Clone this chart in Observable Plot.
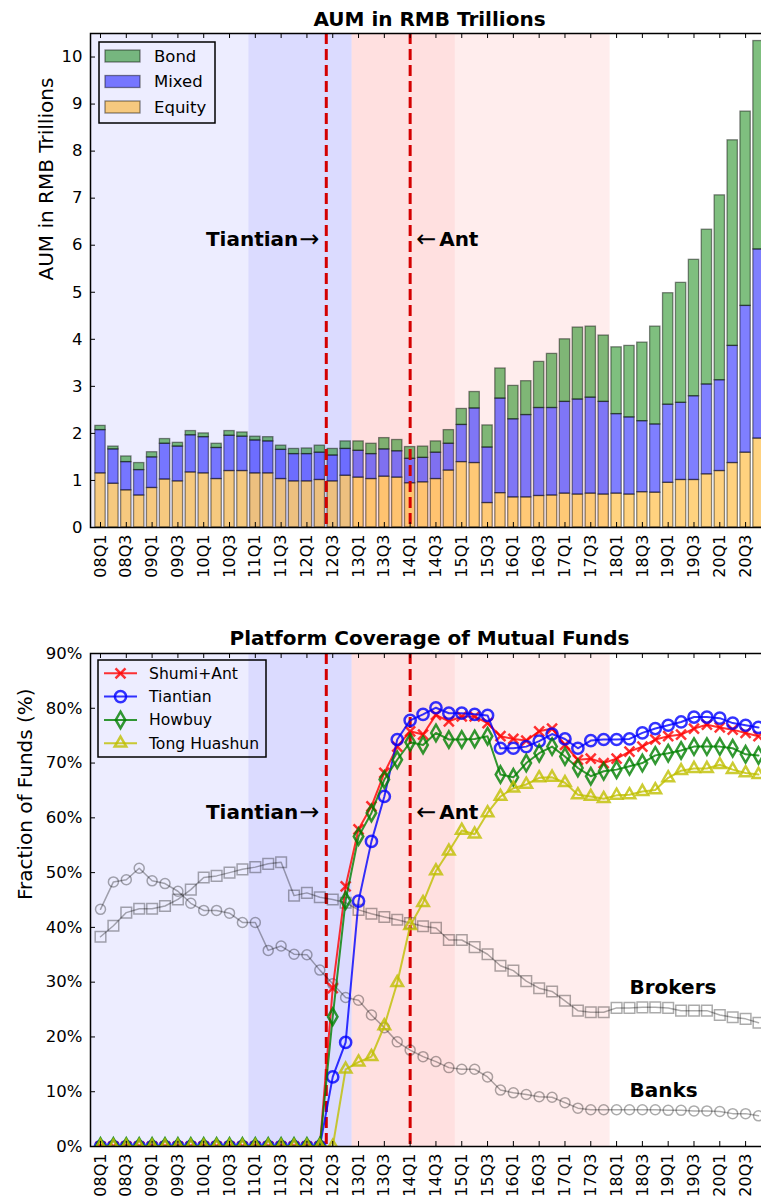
<!DOCTYPE html>
<html>
<head>
<meta charset="utf-8">
<script src="https://cdn.jsdelivr.net/npm/d3@7"></script>
<script src="https://cdn.jsdelivr.net/npm/@observablehq/plot@0.6"></script>
<style>
html, body { margin: 0; padding: 0; background: #fff; overflow: hidden; }
#wrap { position: relative; width: 761px; height: 1201px; overflow: hidden; font-family: "DejaVu Sans", sans-serif; }
#wrap > .panel { position: absolute; left: 0; }
#overlay { position: absolute; left: 0; top: 0; pointer-events: none; }
</style>
</head>
<body>
<div id="wrap"></div>
<script>
// ---------------- DATA ----------------
const quarters = [
  "08Q1","08Q2","08Q3","08Q4","09Q1","09Q2","09Q3","09Q4",
  "10Q1","10Q2","10Q3","10Q4","11Q1","11Q2","11Q3","11Q4",
  "12Q1","12Q2","12Q3","12Q4","13Q1","13Q2","13Q3","13Q4",
  "14Q1","14Q2","14Q3","14Q4","15Q1","15Q2","15Q3","15Q4",
  "16Q1","16Q2","16Q3","16Q4","17Q1","17Q2","17Q3","17Q4",
  "18Q1","18Q2","18Q3","18Q4","19Q1","19Q2","19Q3","19Q4",
  "20Q1","20Q2","20Q3","20Q4"
];
// AUM (RMB trillions) by fund type
const equity = [1.15,0.93,0.79,0.68,0.84,1.02,0.98,1.17,1.15,1.03,1.20,1.20,1.15,1.15,1.03,0.98,
  0.98,1.01,0.98,1.10,1.06,1.03,1.08,1.06,0.94,0.96,1.03,1.21,1.39,1.37,0.52,0.73,
  0.64,0.64,0.67,0.68,0.72,0.70,0.72,0.70,0.72,0.70,0.75,0.74,0.95,1.01,1.01,1.13,
  1.20,1.37,1.59,1.89];
const mixed = [0.92,0.73,0.60,0.54,0.65,0.76,0.74,0.79,0.77,0.66,0.75,0.73,0.70,0.68,0.62,0.58,
  0.58,0.58,0.55,0.57,0.57,0.53,0.58,0.56,0.52,0.52,0.56,0.57,0.79,1.16,1.18,2.01,
  1.66,1.75,1.87,1.86,1.95,2.02,2.04,1.97,1.69,1.64,1.51,1.45,1.66,1.64,1.78,1.91,
  1.93,2.49,3.12,4.02];
const bond = [0.09,0.06,0.12,0.15,0.11,0.10,0.08,0.09,0.08,0.09,0.10,0.09,0.08,0.09,0.09,0.11,
  0.12,0.15,0.14,0.16,0.20,0.22,0.24,0.24,0.25,0.24,0.24,0.29,0.34,0.35,0.47,0.64,
  0.71,0.72,0.98,1.15,1.33,1.53,1.51,1.41,1.42,1.52,1.67,2.08,2.37,2.55,2.90,3.29,
  3.93,4.37,4.13,4.43];
const fundTypes = ["Equity", "Mixed", "Bond"];

// Platform coverage (% of funds)
const shumiAnt = [0,0,0,0,0,0,0,0,0,0,0,0,0,0,0,0,0,0,
  28.9,47.5,57.9,62.1,68.2,73.0,75.8,75.2,78.8,77.6,78.5,78.5,77.3,74.9,74.4,74.1,
  75.8,76.3,73.3,70.6,70.8,70.0,70.8,72.1,73.0,74.3,74.9,75.2,76.3,77.0,76.5,76.1,75.5,74.9];
const tiantian = [0,0,0,0,0,0,0,0,0,0,0,0,0,0,0,0,0,0,
  12.7,19.0,44.8,55.7,63.9,74.3,77.8,78.9,80.1,79.1,79.1,78.9,78.7,72.7,72.7,73.0,
  74.0,75.3,74.4,72.7,74.1,74.3,74.3,74.4,75.5,76.3,76.9,77.5,78.4,78.4,78.2,77.3,76.9,76.5];
const howbuy = [0,0,0,0,0,0,0,0,0,0,0,0,0,0,0,0,0,0,
  23.7,44.9,56.6,60.9,67.0,70.6,73.8,73.3,75.5,74.3,74.3,74.4,74.9,67.9,67.4,70.0,
  71.8,73.0,71.2,69.1,67.6,68.5,68.8,69.4,70.0,71.4,71.8,72.3,73.0,73.0,73.0,72.7,71.6,71.4];
const tongHuashun = [0,0,0,0,0,0,0,0,0,0,0,0,0,0,0,0,0,0,0,
  14.1,15.4,16.4,22.0,29.9,40.3,44.5,50.3,53.9,57.7,57.0,60.9,63.9,65.4,66.1,
  67.3,67.4,66.4,64.2,63.9,63.5,64.1,64.2,64.8,65.1,67.3,68.6,69.0,69.0,69.7,68.8,68.2,67.9];
const banks = [43.3,48.3,48.7,50.8,48.5,48.0,46.6,44.4,43.1,43.1,
  42.6,40.9,40.9,35.8,36.6,35.1,35.0,32.2,29.7,27.2,
  26.7,24.0,21.7,19.1,17.6,16.4,15.5,14.4,14.1,14.1,
  12.7,10.3,9.8,9.5,9.1,9.0,8.0,7.0,6.7,6.7,
  6.7,6.7,6.7,6.7,6.6,6.6,6.5,6.5,6.4,6.0,6.0,5.6];
const brokers = [38.3,40.3,42.7,43.4,43.4,43.9,45.1,46.9,49.1,49.4,
  50.0,50.6,51.0,51.6,51.9,45.8,46.3,45.5,45.1,44.5,
  43.2,42.5,41.9,41.4,40.8,40.2,39.9,37.7,37.7,36.4,
  35.1,33.0,32.1,30.2,28.9,28.3,26.6,24.8,24.5,24.5,
  25.3,25.3,25.4,25.4,25.3,24.8,24.8,24.8,24.0,23.6,23.3,22.6];
const platformNames = ["Shumi+Ant", "Tiantian", "Howbuy", "Tong Huashun"];
const platformValues = [shumiAnt, tiantian, howbuy, tongHuashun];
const channelNames = ["Brokers", "Banks"];
const channelValues = [brokers, banks];

// events & phases (quarter index positions)
const eventNames = ["Tiantian", "Ant"];
const eventPos = [17.5, 24];
const phaseStart = [-1, 11.5, 19.5, 27.5];
const phaseEnd = [11.5, 19.5, 27.5, 39.5];
const aumTicks = [0,1,2,3,4,5,6,7,8,9,10];
const covTicks = [0,10,20,30,40,50,60,70,80,90];
const aumEventLabelY = 6.13;
const covEventLabelY = 61;
const channelLabelX = 41;
const channelLabelY = [29.1, 10.2];

// ---------------- STYLE ----------------
const FONT = '"DejaVu Sans", sans-serif';
const phaseColors = ["#0000ff", "#0000ff", "#ff0000", "#ff0000"];
const phaseAlpha = [0.07, 0.14, 0.12, 0.07];
const typeColors = ["orange", "blue", "green"];
const platStyles = [
  {color: "red", symbol: "times", r: 4.6},
  {color: "blue", symbol: "circle", r: 5.6},
  {color: "green", symbol: "diamond", r: 5},
  {color: "#bfbf00", symbol: "triangle", r: 4.3}
];
const chanStyles = [{symbol: "square", r: 6}, {symbol: "circle", r: 5}];

const W = 770, ML = 90, MR = 2;
const xDom = [-0.775, 51.775];
const idx = quarters.map((q, i) => i);
const evenIdx = idx.filter(i => i % 2 === 0);

function commonMarks(FH, yTicks, yFmt) {
  const FW = W - ML - MR;
  return {
    spans: phaseStart.map((s, k) => Plot.rectX([k], {x1: () => phaseStart[k], x2: () => phaseEnd[k], fill: phaseColors[k], fillOpacity: phaseAlpha[k], clip: true})),
    ticks: [
      Plot.tickX(evenIdx, {x: d => d, insetTop: FH - 5, stroke: "black", strokeWidth: 1}),
      Plot.tickX(evenIdx, {x: d => d, insetBottom: FH - 5, stroke: "black", strokeWidth: 1}),
      Plot.tickY(yTicks, {y: d => d, insetRight: FW - 5, stroke: "black", strokeWidth: 1}),
      Plot.tickY(yTicks, {y: d => d, insetLeft: FW - 5, stroke: "black", strokeWidth: 1}),
      Plot.axisX(evenIdx, {tickSize: 0, tickPadding: 7, tickRotate: -90, tickFormat: i => quarters[i], fontSize: 16, label: null}),
      Plot.axisY(yTicks, {tickSize: 0, tickPadding: 8, tickFormat: yFmt, fontSize: 16.5, label: null})
    ],
    dashes: Plot.ruleX(eventPos, {x: d => d, stroke: "#d40000", strokeWidth: 3, strokeDasharray: "11,5"})
  };
}

function eventLabels(yVal) {
  return [
    Plot.text([0], {x: () => eventPos[0], y: () => yVal, text: () => eventNames[0], textAnchor: "end", dx: -28, fontWeight: "bold", fontSize: 20, fill: "black"}),
    Plot.text([0], {x: () => eventPos[0], y: () => yVal, text: () => "\u2192", textAnchor: "end", dx: -7, fontSize: 24, fill: "black"}),
    Plot.text([0], {x: () => eventPos[1], y: () => yVal, text: () => "\u2190", textAnchor: "start", dx: 6, fontSize: 24, fill: "black"}),
    Plot.text([0], {x: () => eventPos[1], y: () => yVal, text: () => eventNames[1], textAnchor: "start", dx: 29, fontWeight: "bold", fontSize: 20, fill: "black"})
  ];
}

// ---------------- TOP PANEL ----------------
const stackRows = [];
idx.forEach(i => {
  let base = 0;
  [equity, mixed, bond].forEach((arr, k) => {
    stackRows.push({i, type: fundTypes[k], y1: base, y2: base + arr[i]});
    base += arr[i];
  });
});

const topH = 600, topMT = 33, topMB = 73;
const cTop = commonMarks(topH - topMT - topMB, aumTicks, d => String(d));
const topPlot = Plot.plot({
  width: W, height: topH, marginLeft: ML, marginRight: MR, marginTop: topMT, marginBottom: topMB,
  style: {fontFamily: FONT, fontSize: "16px", background: "transparent", maxWidth: "none", color: "black"},
  x: {domain: xDom, range: [ML, W - MR]},
  y: {domain: [0, 10.5]},
  color: {domain: fundTypes, range: typeColors},
  marks: [
    ...cTop.spans,
    Plot.rectY(stackRows, {x1: d => d.i - 0.4, x2: d => d.i + 0.4, y1: "y1", y2: "y2", fill: "type", fillOpacity: 0.5, stroke: "black", strokeOpacity: 0.45, strokeWidth: 1.3}),
    cTop.dashes,
    ...cTop.ticks,
    ...eventLabels(aumEventLabelY),
    Plot.text(["AUM in RMB Trillions"], {frameAnchor: "top", lineAnchor: "middle", dy: -14, fontWeight: "bold", fontSize: 20, fill: "black"}),
    Plot.text(["AUM in RMB Trillions"], {frameAnchor: "left", lineAnchor: "middle", rotate: -90, dx: -44, fontSize: 20, fill: "black"}),
    Plot.frame({stroke: "black", strokeWidth: 1.5})
  ]
});
topPlot.classList.add("panel");
topPlot.style.top = "0px";

// ---------------- BOTTOM PANEL ----------------
const botH = 601, botMT = 53, botMB = 55;
const cBot = commonMarks(botH - botMT - botMB, covTicks, d => d + "%");
const seriesMarks = [];
channelValues.forEach((vals, k) => {
  seriesMarks.push(Plot.line(idx, {x: i => i, y: i => vals[i], stroke: "black", strokeOpacity: 0.33, strokeWidth: 1.5, clip: true}));
  seriesMarks.push(Plot.dot(idx, {x: i => i, y: i => vals[i], symbol: chanStyles[k].symbol, r: chanStyles[k].r, fill: "none", stroke: "black", strokeOpacity: 0.33, strokeWidth: 1.5, clip: true}));
});
platformValues.forEach((vals, k) => {
  const s = platStyles[k];
  seriesMarks.push(Plot.line(idx, {x: i => i, y: i => vals[i], stroke: s.color, strokeOpacity: 0.8, strokeWidth: 2, clip: true}));
  seriesMarks.push(Plot.dot(idx, {x: i => i, y: i => vals[i], symbol: s.symbol, r: s.r, fill: "none", stroke: s.color, strokeOpacity: 0.8, strokeWidth: 2.5, clip: true}));
});

const botPlot = Plot.plot({
  width: W, height: botH, marginLeft: ML, marginRight: MR, marginTop: botMT, marginBottom: botMB,
  style: {fontFamily: FONT, fontSize: "16px", background: "transparent", maxWidth: "none", color: "black"},
  x: {domain: xDom, range: [ML, W - MR]},
  y: {domain: [0, 90]},
  marks: [
    ...cBot.spans,
    cBot.dashes,
    ...seriesMarks,
    ...cBot.ticks,
    ...eventLabels(covEventLabelY),
    Plot.text(channelNames, {x: () => channelLabelX, y: (d, i) => channelLabelY[i], textAnchor: "start", fontWeight: "bold", fontSize: 20, fill: "black"}),
    Plot.text(["Platform Coverage of Mutual Funds"], {frameAnchor: "top", lineAnchor: "middle", dy: -15, fontWeight: "bold", fontSize: 20, fill: "black"}),
    Plot.text(["Fraction of Funds (%)"], {frameAnchor: "left", lineAnchor: "middle", rotate: -90, dx: -65, fontSize: 20, fill: "black"}),
    Plot.frame({stroke: "black", strokeWidth: 1.5})
  ]
});
botPlot.classList.add("panel");
botPlot.style.top = "600px";

const wrap = document.getElementById("wrap");
wrap.appendChild(topPlot);
wrap.appendChild(botPlot);

// ---------------- LEGENDS (overlay) ----------------
const ov = d3.select(wrap).append("svg").attr("id", "overlay").attr("width", 761).attr("height", 1201)
  .style("font-family", FONT);

// top legend
const lg1 = ov.append("g");
lg1.append("rect").attr("x", 99).attr("y", 42).attr("width", 116).attr("height", 81)
  .attr("fill", "none").attr("stroke", "black").attr("stroke-width", 1.5);
const topOrder = [2, 1, 0];
topOrder.forEach((k, j) => {
  const cy = 56 + j * 25.5;
  lg1.append("rect").attr("x", 105).attr("y", cy - 6).attr("width", 35).attr("height", 12)
    .attr("fill", typeColors[k]).attr("fill-opacity", 0.5).attr("stroke", "black").attr("stroke-opacity", 0.45).attr("stroke-width", 1.3);
  lg1.append("text").attr("x", 154).attr("y", cy).attr("dy", "0.35em").attr("font-size", 16.5).text(fundTypes[k]);
});

// bottom legend
const lg2 = ov.append("g");
lg2.append("rect").attr("x", 98).attr("y", 660).attr("width", 168).attr("height", 97)
  .attr("fill", "none").attr("stroke", "black").attr("stroke-width", 1.5);
const symMap = {times: d3.symbolTimes, circle: d3.symbolCircle, diamond: d3.symbolDiamond, triangle: d3.symbolTriangle};
platformNames.forEach((name, k) => {
  const s = platStyles[k];
  const cy = 673.3 + k * 23.3;
  lg2.append("line").attr("x1", 104).attr("x2", 137).attr("y1", cy).attr("y2", cy)
    .attr("stroke", s.color).attr("stroke-opacity", 0.8).attr("stroke-width", 2);
  lg2.append("path").attr("transform", `translate(120.5,${cy})`)
    .attr("d", d3.symbol(symMap[s.symbol], Math.PI * s.r * s.r)())
    .attr("fill", "none").attr("stroke", s.color).attr("stroke-opacity", 0.8).attr("stroke-width", 2.5);
  lg2.append("text").attr("x", 149).attr("y", cy).attr("dy", "0.35em").attr("font-size", 15.6).text(name);
});
</script>
</body>
</html>
